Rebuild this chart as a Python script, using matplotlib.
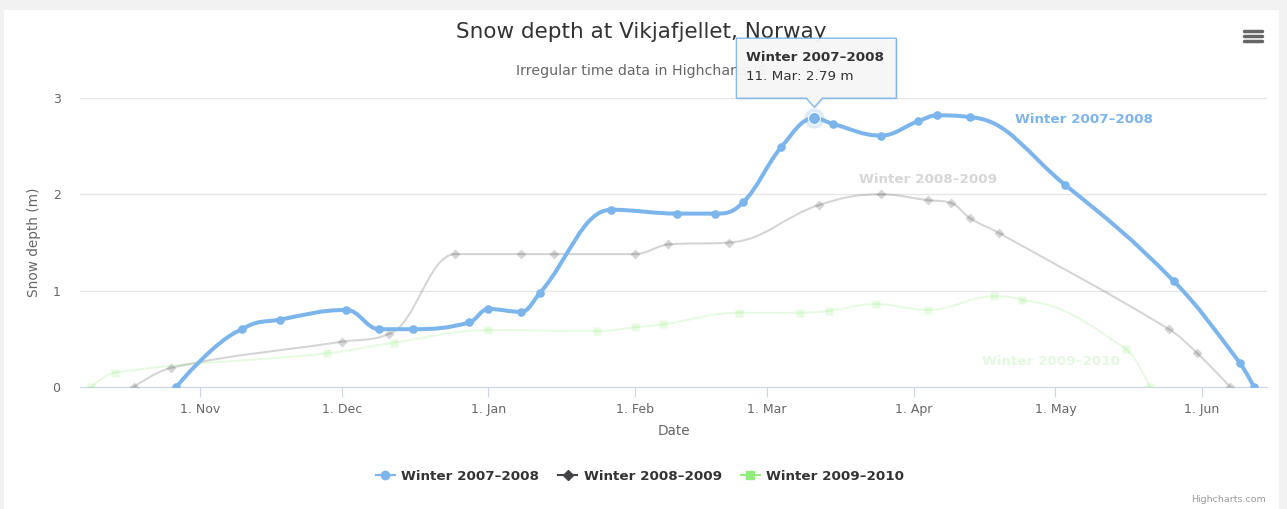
import datetime as dt
import matplotlib
matplotlib.use('Agg')
import matplotlib.pyplot as plt
import matplotlib.dates as mdates
from matplotlib.path import Path
from matplotlib.patches import PathPatch, Polygon, Rectangle
from matplotlib.lines import Line2D

plt.rcParams['font.family'] = ['DejaVu Sans']

# data (dates in a fake 1970/71 season)
names = ['Winter 2007–2008', 'Winter 2008–2009', 'Winter 2009–2010']

dates_0708 = [(1970, 10, 27), (1970, 11, 10), (1970, 11, 18), (1970, 12, 2), (1970, 12, 9),
              (1970, 12, 16), (1970, 12, 28), (1971, 1, 1), (1971, 1, 8), (1971, 1, 12),
              (1971, 1, 27), (1971, 2, 10), (1971, 2, 18), (1971, 2, 24), (1971, 3, 4),
              (1971, 3, 11), (1971, 3, 15), (1971, 3, 25), (1971, 4, 2), (1971, 4, 6),
              (1971, 4, 13), (1971, 5, 3), (1971, 5, 26), (1971, 6, 9), (1971, 6, 12)]
depth_0708 = [0, 0.6, 0.7, 0.8, 0.6, 0.6, 0.67, 0.81, 0.78, 0.98, 1.84, 1.80, 1.80, 1.92,
              2.49, 2.79, 2.73, 2.61, 2.76, 2.82, 2.8, 2.1, 1.1, 0.25, 0]

dates_0809 = [(1970, 10, 18), (1970, 10, 26), (1970, 12, 1), (1970, 12, 11), (1970, 12, 25),
              (1971, 1, 8), (1971, 1, 15), (1971, 2, 1), (1971, 2, 8), (1971, 2, 21),
              (1971, 3, 12), (1971, 3, 25), (1971, 4, 4), (1971, 4, 9), (1971, 4, 13),
              (1971, 4, 19), (1971, 5, 25), (1971, 5, 31), (1971, 6, 7)]
depth_0809 = [0, 0.2, 0.47, 0.55, 1.38, 1.38, 1.38, 1.38, 1.48, 1.5, 1.89, 2.0, 1.94, 1.91,
              1.75, 1.6, 0.6, 0.35, 0]

dates_0910 = [(1970, 10, 9), (1970, 10, 14), (1970, 11, 28), (1970, 12, 12), (1971, 1, 1),
              (1971, 1, 24), (1971, 2, 1), (1971, 2, 7), (1971, 2, 23), (1971, 3, 8),
              (1971, 3, 14), (1971, 3, 24), (1971, 4, 4), (1971, 4, 18), (1971, 4, 24),
              (1971, 5, 16), (1971, 5, 21)]
depth_0910 = [0, 0.15, 0.35, 0.46, 0.59, 0.58, 0.62, 0.65, 0.77, 0.77, 0.79, 0.86, 0.8,
              0.94, 0.9, 0.39, 0]

hover_idx = 15  # 11. Mar


def to_num(dates):
    return [mdates.date2num(dt.datetime(*d)) for d in dates]


def spline_path(xs, ys, smoothing=1.5):
    # same control point logic as highcharts spline series
    n = len(xs)
    left = [None] * n
    right = [None] * n
    denom = smoothing + 1
    for i in range(1, n - 1):
        px, py = xs[i], ys[i]
        lx, ly = xs[i - 1], ys[i - 1]
        nx, ny = xs[i + 1], ys[i + 1]
        lcx = (smoothing * px + lx) / denom
        lcy = (smoothing * py + ly) / denom
        rcx = (smoothing * px + nx) / denom
        rcy = (smoothing * py + ny) / denom
        corr = 0
        if rcx != lcx:
            corr = (rcy - lcy) * (rcx - px) / (rcx - lcx) + py - rcy
        lcy += corr
        rcy += corr
        if lcy > ly and lcy > py:
            lcy = max(ly, py)
            rcy = 2 * py - lcy
        elif lcy < ly and lcy < py:
            lcy = min(ly, py)
            rcy = 2 * py - lcy
        if rcy > ny and rcy > py:
            rcy = max(ny, py)
            lcy = 2 * py - rcy
        elif rcy < ny and rcy < py:
            rcy = min(ny, py)
            lcy = 2 * py - rcy
        left[i] = (lcx, lcy)
        right[i] = (rcx, rcy)
    verts = [(xs[0], ys[0])]
    codes = [Path.MOVETO]
    for i in range(1, n):
        r = right[i - 1] if right[i - 1] else (xs[i - 1], ys[i - 1])
        l = left[i] if left[i] else (xs[i], ys[i])
        verts += [r, l, (xs[i], ys[i])]
        codes += [Path.CURVE4] * 3
    return Path(verts, codes)


W, H = 1287, 509
fig = plt.figure(figsize=(W / 100, H / 100), dpi=100, facecolor='#f2f2f2')
fig.add_artist(Rectangle((4 / W, 0), 1275 / W, 1 - 10 / H, transform=fig.transFigure,
                         facecolor='white', edgecolor='none', zorder=0))

ax = fig.add_axes([80 / W, 122 / H, 1187 / W, 289 / H])
ax.set_facecolor('none')

x07, x08, x09 = to_num(dates_0708), to_num(dates_0809), to_num(dates_0910)
blue, dark, green = '#7cb5ec', '#434348', '#90ed7d'

# faded (inactive) series
ax.add_patch(PathPatch(spline_path(x09, depth_0910), facecolor='none', edgecolor=green,
                       lw=1.5, alpha=0.22, zorder=2))
ax.plot(x09, depth_0910, ls='none', marker='s', ms=6, color=green, alpha=0.22,
        mec='none', zorder=2)
ax.add_patch(PathPatch(spline_path(x08, depth_0809), facecolor='none', edgecolor=dark,
                       lw=1.5, alpha=0.22, zorder=3))
ax.plot(x08, depth_0809, ls='none', marker='D', ms=5, color=dark, alpha=0.22,
        mec='none', zorder=3)

# hovered series
ax.add_patch(PathPatch(spline_path(x07, depth_0708), facecolor='none', edgecolor=blue,
                       lw=2.9, zorder=4, capstyle='round', joinstyle='round'))
ax.plot(x07, depth_0708, ls='none', marker='o', ms=6.2, color=blue, mec='none', zorder=5)
hx, hy = x07[hover_idx], depth_0708[hover_idx]
ax.plot([hx], [hy], marker='o', ms=14.5, color=blue, alpha=0.25, mec='none', zorder=5)
ax.plot([hx], [hy], marker='o', ms=8.6, color=blue, mec='white', mew=0.7, zorder=6)

x0 = mdates.date2num(dt.datetime(1970, 10, 9))
x1 = mdates.date2num(dt.datetime(1971, 6, 12))
ax.set_xlim(x0 - 2.35, x1 + 2.75)
ax.set_ylim(0, 3)

ax.xaxis.set_major_locator(mdates.MonthLocator())
ax.xaxis.set_major_formatter(mdates.DateFormatter('1. %b'))
ax.set_yticks([0, 1, 2, 3])
ax.grid(axis='y', color='#e6e6e6', lw=1)
ax.set_axisbelow(True)
for s in ['top', 'right', 'left']:
    ax.spines[s].set_visible(False)
ax.spines['bottom'].set_color('#ccd6eb')
ax.spines['bottom'].set_zorder(1)
ax.tick_params(axis='x', colors='#ccd6eb', length=7.5, width=0.8, labelcolor='#666666',
               labelsize=9, pad=4)
ax.tick_params(axis='y', length=0, labelcolor='#666666', labelsize=9, pad=14)
ax.set_xlabel('Date', color='#666666', fontsize=9.8, labelpad=6)
ax.set_ylabel('Snow depth (m)', color='#666666', fontsize=9.8, labelpad=8)

# series labels
ax.text(mdates.date2num(dt.datetime(1971, 5, 7)), 2.78, names[0], color=blue,
        fontsize=9.7, fontweight='bold', ha='center', va='center', zorder=7)
ax.text(mdates.date2num(dt.datetime(1971, 4, 4)), 2.15, names[1], color='#d6d6d6',
        fontsize=9.7, fontweight='bold', ha='center', va='center', zorder=7)
ax.text(mdates.date2num(dt.datetime(1971, 4, 30)), 0.26, names[2], color='#e4f9e0',
        fontsize=9.7, fontweight='bold', ha='center', va='center', zorder=7)

# titles
fig.text(641 / W, 1 - 32 / H, 'Snow depth at Vikjafjellet, Norway', ha='center',
         va='center', fontsize=15.5, color='#333333')
fig.text(641 / W, 1 - 71 / H, 'Irregular time data in Highcharts JS', ha='center',
         va='center', fontsize=10.2, color='#666666')

# legend
handles = [Line2D([], [], color=blue, lw=1.5, marker='o', ms=6),
           Line2D([], [], color=dark, lw=1.5, marker='D', ms=5),
           Line2D([], [], color=green, lw=1.5, marker='s', ms=6)]
leg = fig.legend(handles, names, loc='center', bbox_to_anchor=(640 / W, 1 - 476 / H), ncol=3,
                 frameon=False, handlelength=1.4, handletextpad=0.5, columnspacing=1.4,
                 prop={'size': 9.7, 'weight': 'bold'})
for t in leg.get_texts():
    t.set_color('#333333')

fig.text(1266 / W, 1 - 499 / H, 'Highcharts.com', ha='right', va='center', fontsize=6.8,
         color='#999999')

# menu icon
for yy in (31, 36, 41):
    fig.add_artist(Line2D([1244 / W, 1262 / W], [1 - yy / H] * 2, color='#666666', lw=2.5,
                          solid_capstyle='round'))

# tooltip, anchored at the hovered point
fig.canvas.draw()
tx, ty = ax.transData.transform((hx, hy))
bw, bh = 160, 60
bl, bb = tx - 78, ty + 20
tip = [(bl, bb), (tx - 8, bb), (tx, bb - 9), (tx + 8, bb), (bl + bw, bb),
       (bl + bw, bb + bh), (bl, bb + bh)]
shadow = [(x + 1.5, y - 1.5) for x, y in tip]
fig.add_artist(Polygon(shadow, closed=True, transform=None, facecolor='black', alpha=0.08,
                       edgecolor='none', zorder=8))
fig.add_artist(Polygon(tip, closed=True, transform=None, facecolor='#f7f7f7', alpha=0.95,
                       edgecolor=blue, lw=1, zorder=9))
fig.text((bl + 10) / W, (bb + bh - 19) / H, names[0], fontsize=9.7, fontweight='bold',
         color='#333333', va='center', zorder=10)
label = mdates.num2date(hx).strftime('%d. %b').lstrip('0')
fig.text((bl + 10) / W, (bb + bh - 38) / H, f'{label}: {hy:.2f} m', fontsize=9.7,
         color='#333333', va='center', zorder=10)

fig.savefig('out.png', dpi=100, facecolor=fig.get_facecolor())
